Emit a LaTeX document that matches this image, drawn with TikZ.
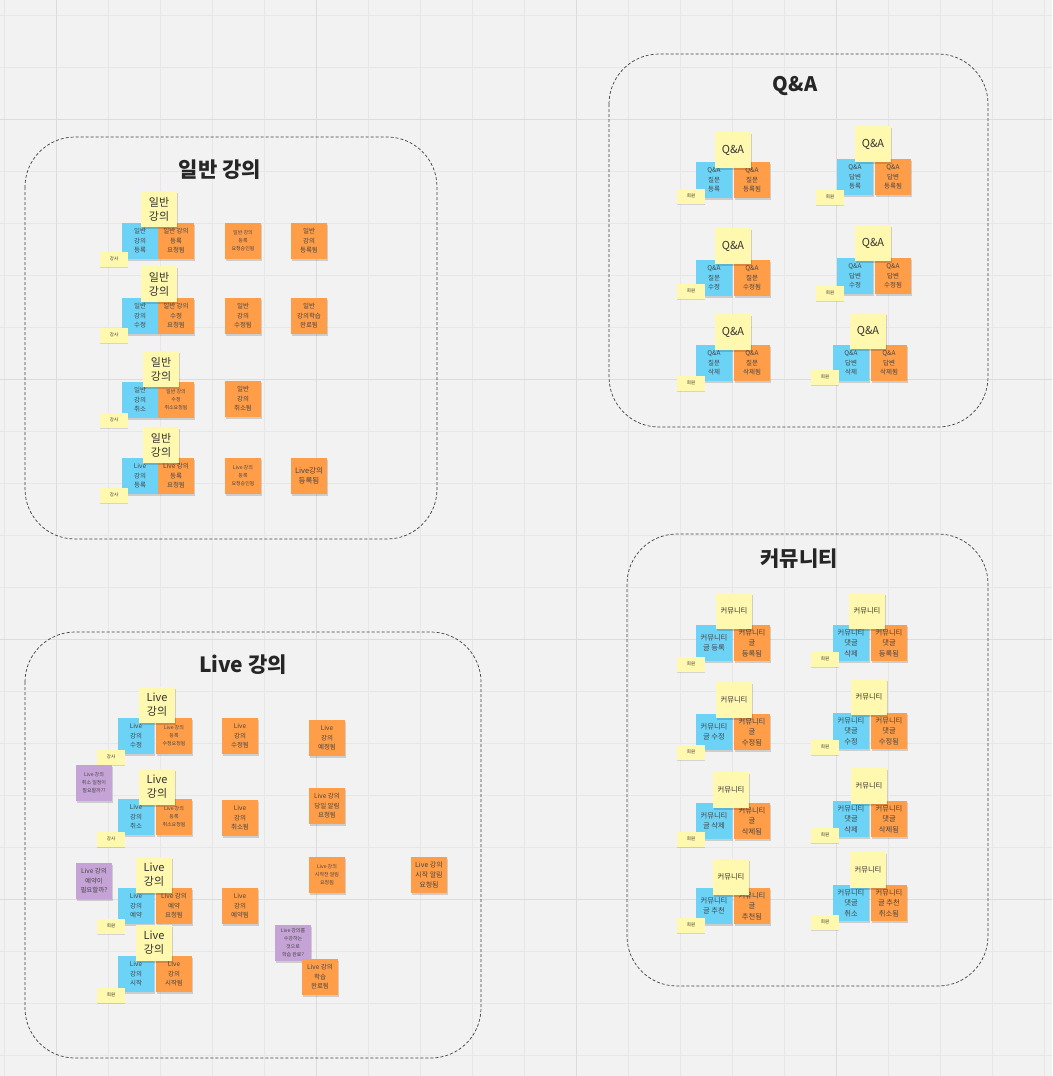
\documentclass[tikz,border=0pt]{standalone}
\usepackage{fontspec}
\setmainfont{Noto Sans CJK KR}
\usetikzlibrary{positioning,shadows}
\definecolor{canvas}{HTML}{F2F2F2}
\definecolor{gridminor}{HTML}{E7E7E7}
\definecolor{gridmajor}{HTML}{DCDCDC}
\definecolor{notecyan}{HTML}{6CD3F7}
\definecolor{noteorange}{HTML}{FF9D48}
\definecolor{noteyellow}{HTML}{FFF8AE}
\definecolor{notepurple}{HTML}{C5A3D6}
\definecolor{notetext}{HTML}{454545}
\tikzset{
  note/.style={rectangle, minimum width=36pt, minimum height=36pt, inner sep=0pt, align=center, text=notetext,
               font=\fontsize{6.5}{9.5}\selectfont, drop shadow={shadow xshift=0.6pt, shadow yshift=-2pt, fill=black, opacity=0.15}},
  cmd/.style={note, fill=notecyan},
  evt/.style={note, fill=noteorange},
  qst/.style={note, fill=notepurple},
  agg/.style={note, fill=noteyellow, text=black!80, font=\fontsize{11}{14}\selectfont},
  actor/.style={rectangle, fill=noteyellow, minimum width=28pt, minimum height=15pt, inner sep=0pt, text=black!80,
                font=\fontsize{4.5}{5}\selectfont, drop shadow={shadow xshift=0.4pt, shadow yshift=-1.2pt, fill=black, opacity=0.12}},
  finetext/.style={font=\fontsize{5}{8}\selectfont},
  bigtext/.style={font=\fontsize{7.5}{10}\selectfont},
  comtext/.style={font=\fontsize{7.3}{10.5}\selectfont},
  group/.style={draw=black!75, dash pattern=on 3pt off 2pt, rounded corners=50pt, line width=0.7pt},
  grouptitle/.style={font=\fontsize{21}{24}\selectfont\bfseries, text=black!85}
}

\begin{document}
\begin{tikzpicture}[x=1pt, y=-1pt]
  % canvas and grid
  \fill[canvas] (0,0) rectangle (1052,1076);
  \useasboundingbox (0,0) rectangle (1052,1076);
  \foreach \gx in {4,56,...,1044} \draw[gridminor, line width=0.8pt] (\gx,0) -- (\gx,1076);
  \foreach \gy in {15,67,...,1075} \draw[gridminor, line width=0.8pt] (0,\gy) -- (1052,\gy);
  \foreach \gx in {56,316,576,836} \draw[gridmajor, line width=1pt] (\gx,0) -- (\gx,1076);
  \foreach \gy in {119,379,639,899} \draw[gridmajor, line width=1pt] (0,\gy) -- (1052,\gy);

  % groups
  \draw[group] (25,137) rectangle (437,539);
  \draw[group] (609,54) rectangle (988,427);
  \draw[group] (25,632) rectangle (481,1058);
  \draw[group] (627,534) rectangle (988,986);
  \node[grouptitle] (genTitle) at (220,170) {일반 강의};
  \node[grouptitle, font=\fontsize{20}{24}\selectfont\bfseries] (qaTitle) at (795,86) {Q\&A};
  \node[grouptitle] (liveTitle) at (243,665) {Live 강의};
  \node[grouptitle] (comTitle) at (799,559) {커뮤니티};

  % 일반 강의
  \node[cmd] (genCmd1) at (140,241) {일반\\강의\\등록};
  \node[evt] (genEvt1) at (176,241) {일반 강의\\등록\\요청됨};
  \node[evt, finetext] (genOk1) at (243,241) {일반 강의\\등록\\요청승인됨};
  \node[evt] (genDone1) at (309,241) {일반\\강의\\등록됨};
  \node[agg] (genAgg1) at (159,209) {일반\\강의};
  \node[actor] (genActor1) at (114,259) {강사};

  \node[cmd] (genCmd2) at (140,316) {일반\\강의\\수정};
  \node[evt] (genEvt2) at (176,316) {일반 강의\\수정\\요청됨};
  \node[evt] (genOk2) at (243,316) {일반\\강의\\수정됨};
  \node[evt] (genDone2) at (309,316) {일반\\강의학습\\완료됨};
  \node[agg] (genAgg2) at (159,284) {일반\\강의};
  \node[actor] (genActor2) at (114,335) {강사};

  \node[cmd] (genCmd3) at (140,400) {일반\\강의\\취소};
  \node[evt, finetext] (genEvt3) at (176,400) {일반 강의\\수정\\취소요청됨};
  \node[evt] (genOk3) at (243,399) {일반\\강의\\취소됨};
  \node[agg] (genAgg3) at (161,369) {일반\\강의};
  \node[actor] (genActor3) at (114,420) {강사};

  \node[cmd] (genCmd4) at (140,476) {Live\\강의\\등록};
  \node[evt] (genEvt4) at (176,476) {Live 강의\\등록\\요청됨};
  \node[evt, finetext] (genOk4) at (243,476) {Live 강의\\등록\\요청승인됨};
  \node[evt, bigtext] (genDone4) at (309,476) {Live강의\\등록됨};
  \node[agg] (genAgg4) at (161,445) {일반\\강의};
  \node[actor] (genActor4) at (114,495) {강사};

  % Q&A
  \node[cmd] (qaCmdL1) at (714,180) {Q\&A\\질문\\등록};
  \node[evt] (qaEvtL1) at (752,180) {Q\&A\\질문\\등록됨};
  \node[agg] (qaAggL1) at (733,150) {Q\&A};
  \node[actor] (qaActorL1) at (691,196) {회원};
  \node[cmd] (qaCmdR1) at (855,177) {Q\&A\\답변\\등록};
  \node[evt] (qaEvtR1) at (893,177) {Q\&A\\답변\\등록됨};
  \node[agg] (qaAggR1) at (873,144) {Q\&A};
  \node[actor] (qaActorR1) at (830,197) {회원};

  \node[cmd] (qaCmdL2) at (714,278) {Q\&A\\질문\\수정};
  \node[evt] (qaEvtL2) at (752,278) {Q\&A\\질문\\수정됨};
  \node[agg] (qaAggL2) at (733,246) {Q\&A};
  \node[actor] (qaActorL2) at (691,291) {회원};
  \node[cmd] (qaCmdR2) at (855,276) {Q\&A\\답변\\수정};
  \node[evt] (qaEvtR2) at (893,276) {Q\&A\\답변\\수정됨};
  \node[agg] (qaAggR2) at (873,243) {Q\&A};
  \node[actor] (qaActorR2) at (830,293) {회원};

  \node[cmd] (qaCmdL3) at (714,363) {Q\&A\\질문\\삭제};
  \node[evt] (qaEvtL3) at (752,363) {Q\&A\\질문\\삭제됨};
  \node[agg] (qaAggL3) at (733,332) {Q\&A};
  \node[actor] (qaActorL3) at (691,383) {회원};
  \node[cmd] (qaCmdR3) at (851,363) {Q\&A\\답변\\삭제};
  \node[evt] (qaEvtR3) at (889,363) {Q\&A\\답변\\삭제됨};
  \node[agg] (qaAggR3) at (868,331) {Q\&A};
  \node[actor] (qaActorR3) at (825,377) {회원};

  % Live 강의
  \node[cmd] (liveCmd1) at (136,736) {Live\\강의\\수정};
  \node[evt, finetext] (liveEvt1) at (174,736) {Live 강의\\등록\\수정요청됨};
  \node[evt] (liveDone1) at (240,736) {Live\\강의\\수정됨};
  \node[agg] (liveAgg1) at (157,705) {Live\\강의};
  \node[actor] (liveActor1) at (111,757) {강사};
  \node[evt] (liveSched) at (327,738) {Live\\강의\\예정됨};
  \node[qst, finetext] (liveAsk1) at (94,783) {Live 강의\\취소 일정이\\필요할까??};

  \node[cmd] (liveCmd2) at (136,817) {Live\\강의\\취소};
  \node[evt, finetext] (liveEvt2) at (174,817) {Live 강의\\등록\\취소요청됨};
  \node[evt] (liveDone2) at (240,818) {Live\\강의\\취소됨};
  \node[agg] (liveAgg2) at (157,787) {Live\\강의};
  \node[actor] (liveActor2) at (111,839) {강사};
  \node[evt] (liveDay) at (327,806) {Live 강의\\당일 알림\\요청됨};

  \node[qst] (liveAsk2) at (94,881) {Live 강의\\예약이\\필요할까?};
  \node[cmd] (liveCmd3) at (136,906) {Live\\강의\\예약};
  \node[evt] (liveEvt3) at (174,906) {Live 강의\\예약\\요청됨};
  \node[evt] (liveDone3) at (240,906) {Live\\강의\\예약됨};
  \node[agg] (liveAgg3) at (154,875) {Live\\강의};
  \node[actor] (liveActor3) at (111,926) {회원};
  \node[evt, finetext] (livePre) at (327,875) {Live 강의\\시작전 알림\\요청됨};
  \node[evt, font=\fontsize{7}{10}\selectfont] (liveStartMsg) at (429,875) {Live 강의\\시작 알림\\요청됨};

  \node[cmd] (liveCmd4) at (136,974) {Live\\강의\\시작};
  \node[evt] (liveEvt4) at (174,974) {Live\\강의\\시작됨};
  \node[agg] (liveAgg4) at (154,943) {Live\\강의};
  \node[actor] (liveActor4) at (111,995) {회원};
  \node[qst, finetext] (liveAsk3) at (293,943) {Live 강의를\\수강하는\\것으로\\학습 완료?};
  \node[evt] (liveLearn) at (320,977) {Live 강의\\학습\\완료됨};

  % 커뮤니티
  \node[cmd, comtext] (comCmdL1) at (714,643) {커뮤니티\\글 등록};
  \node[evt, comtext] (comEvtL1) at (752,643) {커뮤니티\\글\\등록됨};
  \node[agg, comtext] (comAggL1) at (734,611) {커뮤니티};
  \node[actor] (comActorL1) at (691,664) {회원};
  \node[cmd, comtext] (comCmdR1) at (851,643) {커뮤니티\\댓글\\삭제};
  \node[evt, comtext] (comEvtR1) at (889,643) {커뮤니티\\댓글\\등록됨};
  \node[agg, comtext] (comAggR1) at (867,611) {커뮤니티};
  \node[actor] (comActorR1) at (825,659) {회원};

  \node[cmd, comtext] (comCmdL2) at (714,732) {커뮤니티\\글 수정};
  \node[evt, comtext] (comEvtL2) at (752,732) {커뮤니티\\글\\수정됨};
  \node[agg, comtext] (comAggL2) at (734,700) {커뮤니티};
  \node[actor] (comActorL2) at (691,752) {회원};
  \node[cmd, comtext] (comCmdR2) at (851,731) {커뮤니티\\댓글\\수정};
  \node[evt, comtext] (comEvtR2) at (889,731) {커뮤니티\\댓글\\수정됨};
  \node[agg, comtext] (comAggR2) at (869,697) {커뮤니티};
  \node[actor] (comActorR2) at (825,747) {회원};

  \node[cmd, comtext] (comCmdL3) at (714,821) {커뮤니티\\글 삭제};
  \node[evt, comtext] (comEvtL3) at (752,821) {커뮤니티\\글\\삭제됨};
  \node[agg, comtext] (comAggL3) at (731,790) {커뮤니티};
  \node[actor] (comActorL3) at (691,839) {회원};
  \node[cmd, comtext] (comCmdR3) at (851,819) {커뮤니티\\댓글\\삭제};
  \node[evt, comtext] (comEvtR3) at (889,819) {커뮤니티\\댓글\\삭제됨};
  \node[agg, comtext] (comAggR3) at (869,786) {커뮤니티};
  \node[actor] (comActorR3) at (825,835) {회원};

  \node[cmd, comtext] (comCmdL4) at (714,906) {커뮤니티\\글 추천};
  \node[evt, comtext] (comEvtL4) at (752,906) {커뮤니티\\글\\추천됨};
  \node[agg, comtext] (comAggL4) at (731,877) {커뮤니티};
  \node[actor] (comActorL4) at (691,925) {회원};
  \node[cmd, comtext] (comCmdR4) at (851,903) {커뮤니티\\댓글\\취소};
  \node[evt, comtext] (comEvtR4) at (889,903) {커뮤니티\\글 추천\\취소됨};
  \node[agg, comtext] (comAggR4) at (868,870) {커뮤니티};
  \node[actor] (comActorR4) at (825,922) {회원};
\end{tikzpicture}
\end{document}
